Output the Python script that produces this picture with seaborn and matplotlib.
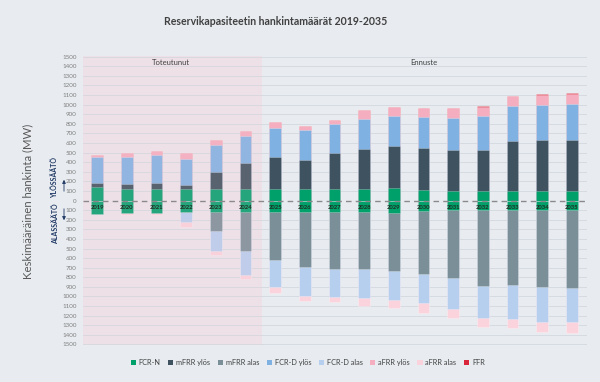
import numpy as np
import pandas as pd
import matplotlib
matplotlib.use("Agg")
import matplotlib.pyplot as plt
from matplotlib.patches import Patch
import seaborn as sns

# Reserve capacity procurement, MW (upward positive, downward negative)
years = [2019, 2020, 2021, 2022, 2023, 2024, 2025, 2026, 2027,
         2028, 2029, 2030, 2031, 2032, 2033, 2034, 2035]
fcr_n = [140, 125, 125, 122, 121, 121, 121, 121, 121, 124, 128, 110, 95, 95, 98, 100, 100]
mfrr_up = [40, 50, 55, 40, 180, 270, 335, 300, 370, 415, 440, 438, 433, 436, 526, 528, 528]
fcrd_up = [269, 283, 293, 275, 280, 283, 304, 310, 307, 310, 313, 321, 334, 348, 359, 369, 379]
afrr_up = [24, 42, 41, 56, 45, 48, 58, 41, 44, 90, 90, 100, 100, 93, 107, 106, 107]
ffr = [0, 0, 0, 0, 0, 0, 0, 0, 0, 0, 0, 0, 0, 10, 0, 5, 5]
mfrr_down = [0, 0, 0, 0, 197, 403, 495, 576, 590, 590, 610, 652, 717, 793, 786, 803, 807]
fcrd_down = [0, 0, 0, 103, 207, 252, 288, 293, 297, 297, 300, 310, 321, 331, 348, 359, 362]
afrr_down = [0, 21, 21, 48, 41, 41, 60, 55, 52, 90, 83, 97, 93, 100, 100, 103, 107]

labels = ["FCR-N", "mFRR ylös", "mFRR alas", "FCR-D ylös", "FCR-D alas",
          "aFRR ylös", "aFRR alas", "FFR"]
colors = {
    "FCR-N": "#00a06b",
    "mFRR ylös": "#3e525f",
    "mFRR alas": "#7b8f98",
    "FCR-D ylös": "#7fb2e2",
    "FCR-D alas": "#b7cfee",
    "aFRR ylös": "#f4aebf",
    "aFRR alas": "#fad3dc",
    "FFR": "#d9263a",
}

BG = "#e8ecf0"
sns.set_theme(style="white")
plt.rcParams["font.family"] = ["Lato", "DejaVu Sans"]

fig = plt.figure(figsize=(6.0, 3.82), dpi=100, facecolor=BG)
ax = fig.add_axes([0.138, 0.097, 0.84, 0.756])
ax.set_facecolor(BG)

df = pd.DataFrame({"year": [str(y) for y in years]})
order = df["year"].tolist()

# upward stack: cumulative sums drawn from the top layer down
up_layers = [("FCR-N", fcr_n), ("mFRR ylös", mfrr_up), ("FCR-D ylös", fcrd_up),
             ("aFRR ylös", afrr_up), ("FFR", ffr)]
down_layers = [("FCR-N", fcr_n), ("mFRR alas", mfrr_down), ("FCR-D alas", fcrd_down),
               ("aFRR alas", afrr_down)]

def stacked(layers, sign):
    cum = np.zeros(len(years))
    tops = []
    for name, vals in layers:
        cum = cum + np.asarray(vals, dtype=float)
        tops.append((name, cum.copy()))
    for name, top in reversed(tops):
        d = df.copy()
        d["value"] = sign * top
        sns.barplot(data=d, x="year", y="value", order=order, color=colors[name],
                    saturation=1, width=0.39, edgecolor=(1, 1, 1, 0.35),
                    linewidth=0.5, errorbar=None, ax=ax, zorder=3)

stacked(up_layers, 1)
stacked(down_layers, -1)

xmin, xmax = -0.48, 16.5
ax.set_xlim(xmin, xmax)
ax.set_ylim(-1505, 1505)

# realised period shading
ax.axvspan(xmin, 5.55, color="#ece6ea", zorder=0, lw=0)
ax.axvspan(xmin, 5.55, color=(245/255, 200/255, 215/255),
           alpha=0.15, zorder=5, lw=0)

# grid
ticks = np.arange(-1500, 1501, 100)
for t in ticks:
    if t != 0:
        ax.axhline(t, color="#d6dbe1", lw=0.7, zorder=1)
ax.axhline(0, color="#8a8a8a", lw=1.0, ls=(0, (4, 3)), zorder=6)

ax.set_yticks(ticks)
ax.set_yticklabels([str(abs(int(t))) for t in ticks], fontsize=4.5, color="#7f7f7f")
ax.tick_params(axis="y", length=0, pad=4.5)
ax.set_xticks([])
ax.set_xlabel("")
ax.set_ylabel("")
for s in ax.spines.values():
    s.set_visible(False)

# year labels inside the bars
for i, y in enumerate(order):
    ax.text(i, -72, y, ha="center", va="center", fontsize=4.2,
            fontweight="bold", color="#1f2a1f", zorder=7)

ax.text(2.5, 1440, "Toteutunut", ha="center", va="center", fontsize=5.5, color="#404040", zorder=7)
ax.text(11.0, 1440, "Ennuste", ha="center", va="center", fontsize=5.5, color="#404040", zorder=7)

fig.text(0.46, 0.945, "Reservikapasiteetin hankintamäärät 2019-2035", ha="center",
         va="center", fontsize=7.6, color="#404040", fontweight="bold")
fig.text(0.047, 0.474, "Keskimääräinen hankinta (MW)", rotation=90, ha="center",
         va="center", fontsize=8.2, color="#595959")

# direction hints
navy = "#203864"
fig.text(55 / 600, 1 - 178 / 382, "YLÖSSÄÄTÖ", rotation=90, ha="center", va="center",
         fontsize=5.0, fontweight="bold", color=navy)
fig.text(56 / 600, 1 - 224 / 382, "ALASSÄÄTÖ", rotation=90, ha="center", va="center",
         fontsize=5.0, fontweight="bold", color=navy)
ax.annotate("", xy=(64 / 600, 1 - 177 / 382), xytext=(64 / 600, 1 - 194 / 382),
            xycoords="figure fraction", textcoords="figure fraction",
            arrowprops=dict(arrowstyle="-|>", color=navy, lw=0.6, mutation_scale=5))
ax.annotate("", xy=(64 / 600, 1 - 223 / 382), xytext=(64 / 600, 1 - 206 / 382),
            xycoords="figure fraction", textcoords="figure fraction",
            arrowprops=dict(arrowstyle="-|>", color=navy, lw=0.6, mutation_scale=5))

handles = [Patch(facecolor=colors[l], edgecolor="none", label=l) for l in labels]
fig.legend(handles=handles, loc="center", bbox_to_anchor=(0.513, 0.05), ncol=8,
           frameon=False, fontsize=5.3, handlelength=0.7, handleheight=0.7,
           handletextpad=0.4, columnspacing=1.0, labelcolor="#404040")

fig.savefig("out.png", dpi=100, facecolor=BG)
